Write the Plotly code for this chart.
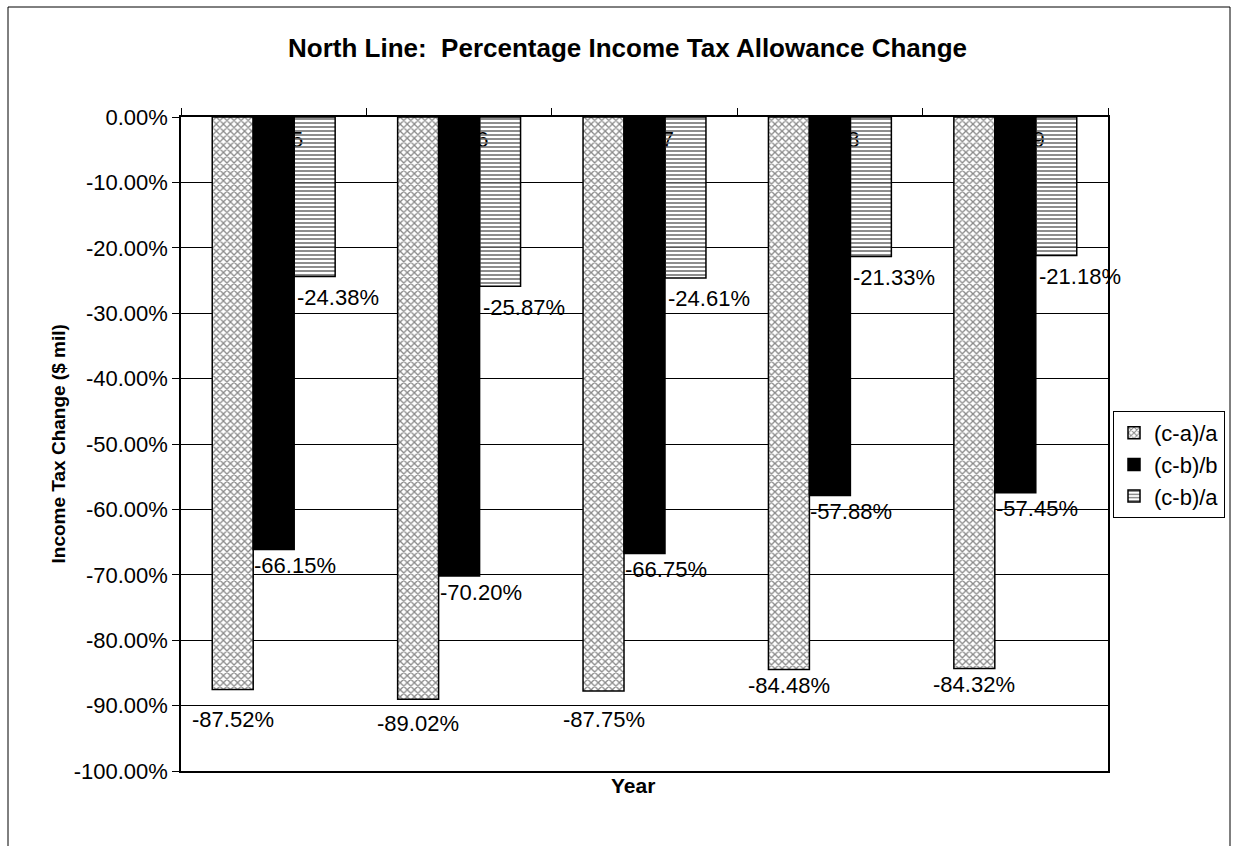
import plotly.graph_objects as go

# Categories and series values (percent change)
years = ["2005", "2006", "2007", "2008", "2009"]
ca_a = [-87.52, -89.02, -87.75, -84.48, -84.32]   # (c-a)/a
cb_b = [-66.15, -70.20, -66.75, -57.88, -57.45]   # (c-b)/b
cb_a = [-24.38, -25.87, -24.61, -21.33, -21.18]   # (c-b)/a
series_names = ["(c-a)/a", "(c-b)/b", "(c-b)/a"]
y_ticks = [0, -10, -20, -30, -40, -50, -60, -70, -80, -90, -100]
title_text = "North Line:  Percentage Income Tax Allowance Change"

# Vertical gap (px) between each bar end and its value label
ca_label_gap = [30, 24, 29, 16, 16]
cb_b_label_gap = 16
cb_a_label_gap = 21

FONT = "Liberation Sans, Arial, sans-serif"
W, H = 1238, 846
L, R, T, B = 181, 2, 117, 75
PW, PH = W - L - R, H - T - B
PLOT_RIGHT = 1108  # right edge of the plotting area (px)


def px_x(x):
    return (x - L) / PW


def px_y(y):
    return (H - B - y) / PH


fig = go.Figure()

fig.add_trace(go.Bar(
    x=years, y=[v / 100 for v in ca_a], name=series_names[0],
    marker=dict(color="white", line=dict(color="black", width=1.5),
                pattern=dict(shape="x", fgcolor="#111111", bgcolor="white",
                             size=5, solidity=0.45, fillmode="overlay")),
))
fig.add_trace(go.Bar(
    x=years, y=[v / 100 for v in cb_b], name=series_names[1],
    marker=dict(color="black", line=dict(color="black", width=1.5)),
))
fig.add_trace(go.Bar(
    x=years, y=[v / 100 for v in cb_a], name=series_names[2],
    marker=dict(color="rgba(0,0,0,0)", line=dict(color="black", width=1.5),
                pattern=dict(shape="-", fgcolor="#707070", size=4,
                             solidity=0.4, fillmode="replace")),
))

# Value labels
group_w = 0.663
bar_w = group_w / 3
ann = []
for i, v in enumerate(ca_a):
    ann.append(dict(x=i - bar_w, y=v / 100, xref="x", yref="y",
                    text=f"{v:.2f}%", showarrow=False, yanchor="middle",
                    xanchor="center", yshift=-ca_label_gap[i]))
for i, v in enumerate(cb_b):
    ann.append(dict(x=i + bar_w / 2, y=v / 100, xref="x", yref="y",
                    text=f"{v:.2f}%", showarrow=False, yanchor="middle",
                    xanchor="center", xshift=1, yshift=-cb_b_label_gap))
for i, v in enumerate(cb_a):
    ann.append(dict(x=i + 1.5 * bar_w, y=v / 100, xref="x", yref="y",
                    text=f"{v:.2f}%", showarrow=False, yanchor="middle",
                    xanchor="center", xshift=3, yshift=-cb_a_label_gap))

# Chart title and axis titles
ann.append(dict(text=f"<b>{title_text}</b>", xref="paper", yref="paper",
                x=px_x(627), y=px_y(48), xanchor="center", yanchor="middle",
                showarrow=False, font=dict(size=26, family=FONT, color="black")))
ann.append(dict(text="<b>Income Tax Change ($ mil)</b>", xref="paper", yref="paper",
                x=px_x(45), y=px_y(444), textangle=-90, showarrow=False,
                font=dict(size=19, family=FONT, color="black")))
ann.append(dict(text="<b>Year</b>", xref="paper", yref="paper",
                x=px_x(633), y=px_y(785), showarrow=False, yanchor="middle",
                font=dict(size=21, family=FONT, color="black")))

fig.update_layout(
    template="none",
    width=W, height=H,
    margin=dict(l=L, r=R, t=T, b=B, autoexpand=False),
    paper_bgcolor="white", plot_bgcolor="white",
    font=dict(family=FONT, size=22, color="black"),
    barmode="group", bargap=1 - group_w, bargroupgap=0,
    showlegend=True,
    legend=dict(x=px_x(1113), y=px_y(411), xanchor="left", yanchor="top",
                bordercolor="black", borderwidth=1, bgcolor="white",
                font=dict(size=22, family=FONT, color="black"),
                traceorder="normal", tracegroupgap=0),
    annotations=ann,
    shapes=[dict(type="rect", xref="paper", yref="paper",
                 x0=px_x(8), x1=px_x(1230), y0=px_y(860), y1=px_y(7),
                 line=dict(color="black", width=1), fillcolor="rgba(0,0,0,0)",
                 layer="below")],
)

# Fixed category range so the value labels do not widen the axis
fig.update_xaxes(
    type="category", side="top", automargin=False,
    range=[-0.5, len(years) - 0.5], autorange=False,
    domain=[0, px_x(PLOT_RIGHT)],
    showline=True, linecolor="black", linewidth=1.5,
    mirror=True, ticks="outside", ticklen=7, tickcolor="black", tickwidth=1,
    tickson="boundaries", ticklabelstandoff=-41, ticklabelshift=5,
    layer="below traces", showgrid=False, zeroline=False, tickfont=dict(size=22),
)
fig.update_yaxes(
    range=[-1.0, 0], autorange=False, tickvals=[t / 100 for t in y_ticks],
    automargin=False, ticktext=[f"{t:.2f}%" for t in y_ticks],
    showline=True, linecolor="black", linewidth=1.5, mirror=True,
    ticks="outside", ticklen=7, tickcolor="black",
    showgrid=True, gridcolor="black", gridwidth=1, zeroline=False,
    tickfont=dict(size=22),
)

fig.write_html("out.html")
